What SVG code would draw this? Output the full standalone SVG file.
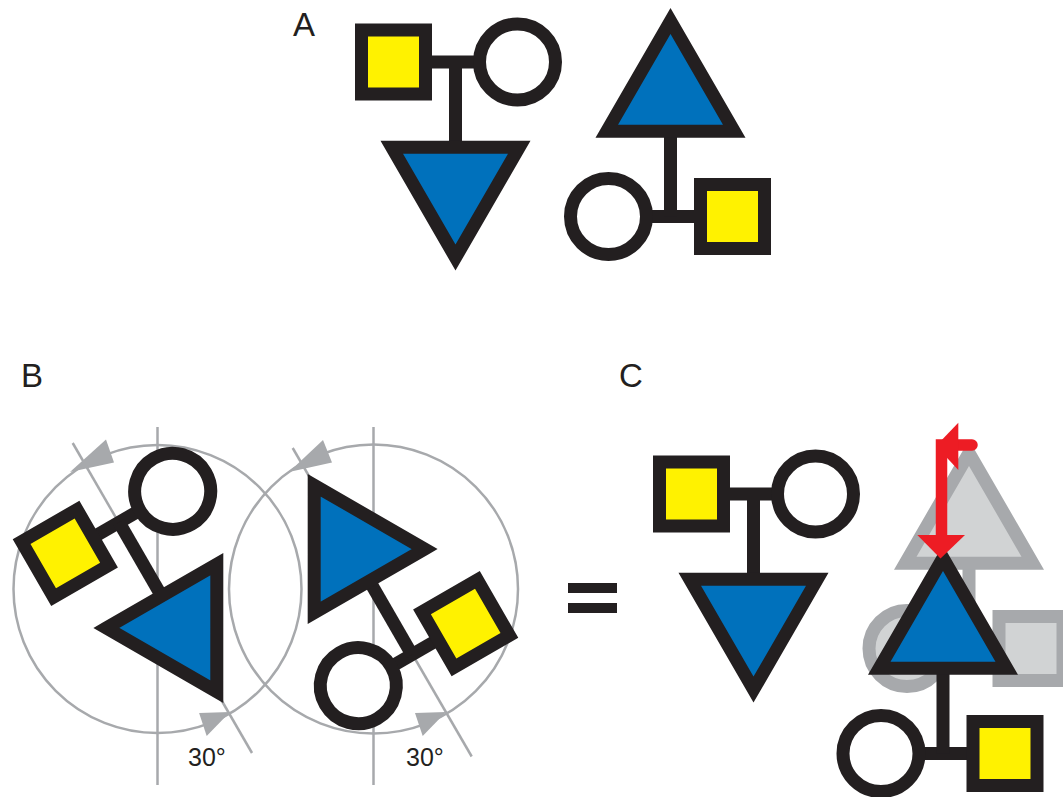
<svg xmlns="http://www.w3.org/2000/svg" width="1063" height="797" viewBox="0 0 1063 797">
<style>
.lbl{font-family:"Liberation Sans",Arial,sans-serif;font-size:33px;fill:#231F20}
.deg{font-family:"Liberation Sans",Arial,sans-serif;font-size:25px;fill:#231F20}
.bond{stroke:#231F20;stroke-width:13;fill:none}
.sq{fill:#FFF200;stroke:#231F20;stroke-width:13}
.ci{fill:#FFFFFF;stroke:#231F20;stroke-width:13}
.tr{fill:#0071BC;stroke:#231F20;stroke-width:13;stroke-linejoin:miter}
.gbond{stroke:#A7A9AC;stroke-width:13;fill:none}
.gsh{fill:#D1D3D4;stroke:#A7A9AC;stroke-width:13;stroke-linejoin:miter}
.guide{stroke:#A7A9AC;stroke-width:2.5;fill:none}
.garrow{fill:#A7A9AC}
</style>
<rect width="1063" height="797" fill="#FFFFFF"/>

<text class="lbl" x="293" y="36">A</text>
<text class="lbl" x="21" y="387">B</text>
<text class="lbl" x="619" y="387">C</text>

<!-- B guides -->
<g id="guides">
<circle class="guide" cx="157.5" cy="589" r="144"/>
<line class="guide" x1="157.5" y1="427" x2="157.5" y2="785"/>
<line class="guide" x1="72.7" y1="443" x2="252" y2="753"/>
<polygon class="garrow" points="106,439.6 114,462.4 70,472"/>
<polygon class="garrow" points="199.1,713.1 206.7,735.9 230,712"/>
<circle class="guide" cx="373.5" cy="589" r="144.5"/>
<line class="guide" x1="373.5" y1="427" x2="373.5" y2="785"/>
<line class="guide" x1="292.7" y1="448" x2="471.7" y2="756.5"/>
<polygon class="garrow" points="323,440 332,462.4 289,472"/>
<polygon class="garrow" points="415,713.1 422.7,735.9 446,712"/>
</g>

<!-- A left -->
<g id="A-left" transform="translate(455.5,62)">
<g id="A-left-connectors"><line class="bond" x1="-62" y1="0" x2="62" y2="0"/><line class="bond" x1="0" y1="0" x2="0" y2="90"/></g>
<g id="A-left-square"><rect class="sq" x="-94" y="-32" width="64" height="64"/></g>
<g id="A-left-circle"><circle class="ci" cx="62" cy="0" r="38"/></g>
<g id="A-left-triangle"><polygon class="tr" points="-63.75,85.2 63.75,85.2 0,195.6"/></g>
</g>

<!-- A right -->
<g id="A-right" transform="translate(670.5,216.5) rotate(180)">
<g id="A-right-connectors"><line class="bond" x1="-62" y1="0" x2="62" y2="0"/><line class="bond" x1="0" y1="0" x2="0" y2="90"/></g>
<g id="A-right-square"><rect class="sq" x="-94" y="-32" width="64" height="64"/></g>
<g id="A-right-circle"><circle class="ci" cx="62" cy="0" r="38"/></g>
<g id="A-right-triangle"><polygon class="tr" points="-63.75,85.2 63.75,85.2 0,195.6"/></g>
</g>

<!-- B left -->
<g id="B-left" transform="translate(157.5,589) rotate(-30) translate(0,-77)">
<g id="B-left-connectors"><line class="bond" x1="-62" y1="0" x2="62" y2="0"/><line class="bond" x1="0" y1="0" x2="0" y2="90"/></g>
<g id="B-left-square"><rect class="sq" x="-94" y="-32" width="64" height="64"/></g>
<g id="B-left-circle"><circle class="ci" cx="62" cy="0" r="38"/></g>
<g id="B-left-triangle"><polygon class="tr" points="-63.75,85.2 63.75,85.2 0,195.6"/></g>
</g>

<!-- B right -->
<g id="B-right" transform="translate(373.5,588) rotate(150) translate(0,-77)">
<g id="B-right-connectors"><line class="bond" x1="-62" y1="0" x2="62" y2="0"/><line class="bond" x1="0" y1="0" x2="0" y2="90"/></g>
<g id="B-right-square"><rect class="sq" x="-94" y="-32" width="64" height="64"/></g>
<g id="B-right-circle"><circle class="ci" cx="62" cy="0" r="38"/></g>
<g id="B-right-triangle"><polygon class="tr" points="-63.75,85.2 63.75,85.2 0,195.6"/></g>
</g>

<text class="deg" x="188" y="766">30°</text>
<text class="deg" x="406" y="766">30°</text>

<!-- equals -->
<g id="equals">
<rect x="568" y="583" width="49" height="10" fill="#231F20"/>
<rect x="568" y="603" width="49" height="10" fill="#231F20"/>
</g>

<!-- C left -->
<g id="C-left" transform="translate(753.5,494)">
<g id="C-left-connectors"><line class="bond" x1="-62" y1="0" x2="62" y2="0"/><line class="bond" x1="0" y1="0" x2="0" y2="90"/></g>
<g id="C-left-square"><rect class="sq" x="-94" y="-32" width="64" height="64"/></g>
<g id="C-left-circle"><circle class="ci" cx="62" cy="0" r="38"/></g>
<g id="C-left-triangle"><polygon class="tr" points="-63.75,85.2 63.75,85.2 0,195.6"/></g>
</g>

<!-- C ghost -->
<g id="C-ghost" transform="translate(969,648.5) rotate(180)">
<g id="C-ghost-connectors"><line class="gbond" x1="-62" y1="0" x2="62" y2="0"/><line class="gbond" x1="0" y1="0" x2="0" y2="90"/></g>
<g id="C-ghost-square"><rect class="gsh" x="-94" y="-32" width="64" height="64"/></g>
<g id="C-ghost-circle"><circle class="gsh" cx="62" cy="0" r="38"/></g>
<g id="C-ghost-triangle"><polygon class="gsh" points="-63.75,85.2 63.75,85.2 0,195.6"/></g>
</g>

<!-- C right -->
<g id="C-right" transform="translate(943,753.5) rotate(180)">
<g id="C-right-connectors"><line class="bond" x1="-62" y1="0" x2="62" y2="0"/><line class="bond" x1="0" y1="0" x2="0" y2="90"/></g>
<g id="C-right-square"><rect class="sq" x="-94" y="-32" width="64" height="64"/></g>
<g id="C-right-circle"><circle class="ci" cx="62" cy="0" r="38"/></g>
<g id="C-right-triangle"><polygon class="tr" points="-63.75,85.2 63.75,85.2 0,195.6"/></g>
</g>

<!-- red arrow -->
<g id="red-arrow">
<path d="M972 445 L941.5 445 L941.5 537" stroke="#ED1C24" stroke-width="11.5" fill="none" stroke-linecap="round" stroke-linejoin="miter"/>
<polygon points="958.3,422.7 958.3,470 936,446" fill="#ED1C24"/>
<polygon points="917.3,535 965,535 940.5,558.5" fill="#ED1C24"/>
</g>
</svg>
